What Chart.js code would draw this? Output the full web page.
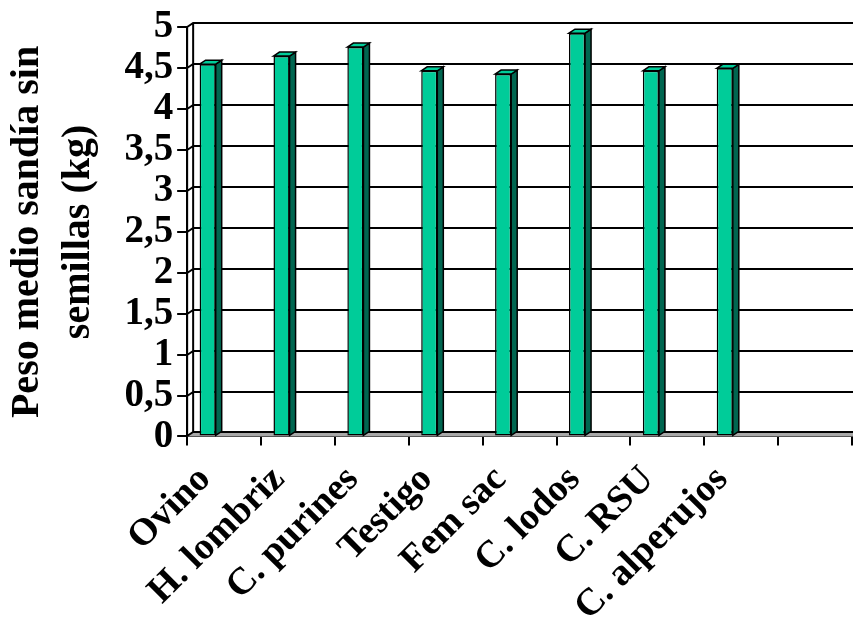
<!DOCTYPE html>
<html>
<head>
<meta charset="utf-8">
<script src="https://cdn.jsdelivr.net/npm/chart.js@4.4.1/dist/chart.umd.min.js"></script>
<style>
  html, body { margin: 0; padding: 0; background: #ffffff; }
  #wrap { width: 853px; height: 628px; }
</style>
</head>
<body>
<div id="wrap"><canvas id="c" width="853" height="628"></canvas></div>
<script>
// Categorías (la última casilla del eje queda vacía)
const categories = ['Ovino', 'H. lombriz', 'C. purines', 'Testigo', 'Fem sac', 'C. lodos', 'C. RSU', 'C. alperujos', ''];
// Peso medio de la sandía sin semillas (kg)
const pesoMedio = [4.55, 4.65, 4.76, 4.47, 4.43, 4.93, 4.47, 4.50, null];
// Valores del eje Y
const yTicks = [0, 0.5, 1, 1.5, 2, 2.5, 3, 3.5, 4, 4.5, 5];
const yTitle = ['Peso medio sandía sin', 'semillas (kg)'];

const FONT = "'Liberation Serif', 'Times New Roman', serif";
const FRONT = '#00CC99';
const SIDE = '#006650';
const DX = 6, DY = -4;   // profundidad de la vista 3D

// Paredes, suelo y líneas de división en la pared del fondo
const walls = {
  id: 'walls',
  beforeDatasetsDraw(chart) {
    const { ctx, chartArea: a, scales: { y } } = chart;
    const W = chart.width;
    const y0 = y.getPixelForValue(0);
    const yTop = y.getPixelForValue(yTicks[yTicks.length - 1]);
    ctx.save();
    // suelo
    ctx.fillStyle = '#a8a8a8';
    ctx.beginPath();
    ctx.moveTo(a.left, y0);
    ctx.lineTo(W, y0);
    ctx.lineTo(W, y0 + DY);
    ctx.lineTo(a.left + DX, y0 + DY);
    ctx.closePath();
    ctx.fill();
    ctx.strokeStyle = '#000';
    ctx.lineWidth = 2;
    ctx.beginPath();
    yTicks.forEach(v => {
      const py = Math.round(y.getPixelForValue(v));
      ctx.moveTo(a.left, py);
      ctx.lineTo(a.left + DX, py + DY);
      ctx.lineTo(W, py + DY);
    });
    ctx.moveTo(a.left + DX, y0 + DY);
    ctx.lineTo(a.left + DX, yTop + DY);
    ctx.moveTo(a.left, yTop);
    ctx.lineTo(a.left, y0);
    ctx.stroke();
    ctx.restore();
  },
  afterDatasetsDraw(chart) {
    const { ctx } = chart;
    const meta = chart.getDatasetMeta(0);
    ctx.save();
    ctx.strokeStyle = '#000';
    ctx.lineWidth = 1.5;
    meta.data.forEach((bar, i) => {
      if (pesoMedio[i] == null) return;
      const { x, y, width, base } = bar.getProps(['x', 'y', 'width', 'base'], true);
      const l = x - width / 2, r = x + width / 2;
      // cara lateral
      ctx.fillStyle = SIDE;
      ctx.beginPath();
      ctx.moveTo(r, y);
      ctx.lineTo(r + DX, y + DY);
      ctx.lineTo(r + DX, base + DY);
      ctx.lineTo(r, base);
      ctx.closePath();
      ctx.fill();
      ctx.stroke();
      // cara superior
      ctx.fillStyle = FRONT;
      ctx.beginPath();
      ctx.moveTo(l, y);
      ctx.lineTo(l + DX, y + DY);
      ctx.lineTo(r + DX, y + DY);
      ctx.lineTo(r, y);
      ctx.closePath();
      ctx.fill();
      ctx.stroke();
    });
    ctx.restore();
  }
};

new Chart(document.getElementById('c'), {
  type: 'bar',
  data: {
    labels: categories,
    datasets: [
      {
        data: pesoMedio,
        backgroundColor: FRONT,
        borderColor: '#000',
        borderWidth: 1.5,
        borderSkipped: false,
        categoryPercentage: 0.89,
        barPercentage: 0.49
      },
      {
        data: categories.map(() => null),
        categoryPercentage: 0.89,
        barPercentage: 0.49
      }
    ]
  },
  options: {
    responsive: false,
    animation: false,
    layout: { padding: { left: 2, right: 1, top: 27, bottom: -14 } },
    plugins: { legend: { display: false }, tooltip: { enabled: false } },
    scales: {
      x: {
        offset: true,
        afterFit: scale => { scale.paddingRight = 0; },
        border: { display: true, color: '#000', width: 2 },
        grid: { offset: true, drawOnChartArea: false, drawTicks: true, tickLength: 9, color: '#000', lineWidth: 2 },
        ticks: {
          autoSkip: false,
          maxRotation: 45,
          minRotation: 45,
          labelOffset: -19,
          padding: 12,
          color: '#000',
          font: { family: FONT, size: 38, weight: 'bold' }
        }
      },
      y: {
        min: 0,
        max: 5,
        border: { display: true, color: '#000', width: 2 },
        grid: { drawOnChartArea: false, drawTicks: true, tickLength: 10, color: '#000', lineWidth: 2 },
        ticks: {
          stepSize: 0.5,
          autoSkip: false,
          padding: 4,
          color: '#000',
          font: { family: FONT, size: 39, weight: 'bold' },
          callback: v => String(v).replace('.', ',')
        },
        title: {
          display: true,
          text: yTitle,
          color: '#000',
          font: { family: FONT, size: 40, weight: 'bold', lineHeight: 1.28 },
          padding: { top: 0, bottom: 16 }
        }
      }
    }
  },
  plugins: [walls]
});
</script>
</body>
</html>
